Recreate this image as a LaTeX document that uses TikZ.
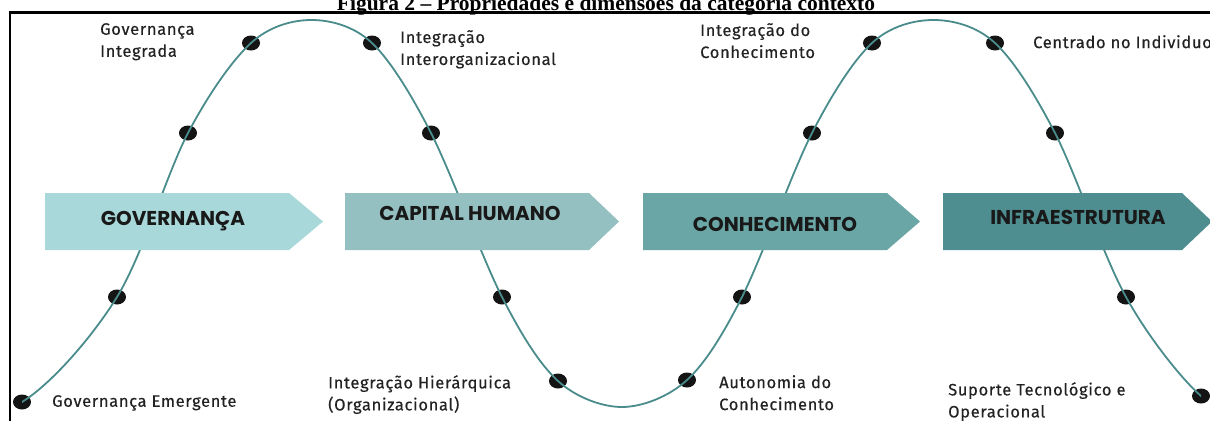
\documentclass[tikz,border=0pt]{standalone}
\usepackage{fontspec}
\usetikzlibrary{shapes.geometric}
\setmainfont{Liberation Serif}
\newfontfamily\lblfont{Fira Sans}[LetterSpace=4,FakeBold=0.3]
\newfontfamily\capfont{Poppins}
\definecolor{wavec}{RGB}{74,140,140}
\definecolor{aone}{RGB}{168,216,218}
\definecolor{atwo}{RGB}{148,192,194}
\definecolor{athree}{RGB}{106,166,166}
\definecolor{afour}{RGB}{78,142,144}
\definecolor{txt}{RGB}{34,34,34}
\begin{document}
\begin{tikzpicture}[x=1pt,y=-1pt,
  dot/.style={ellipse, fill=black!92, minimum width=18pt, minimum height=15pt, inner sep=0pt},
  wave/.style={draw=wavec, line width=1.8pt},
  lbl/.style={anchor=north west, align=left, inner sep=0pt, text=txt,
    font=\lblfont\fontsize{16.5}{22}\selectfont},
  captxt/.style={inner sep=0pt, text=black!90, font=\capfont\bfseries\fontsize{20}{22}\selectfont},
  frameline/.style={line width=2.5pt, draw=black}]
\useasboundingbox (0,0) rectangle (1210,421);
\clip (0,0) rectangle (1210,421);
\fill[white] (0,0) rectangle (1210,421);
% title
\node[anchor=base, inner sep=0pt, font=\bfseries\fontsize{21.5}{24}\selectfont] (title) at (606,10) {Figura 2 -- Propriedades e dimensões da categoria contexto};
% frame
\draw[frameline] (10,421) -- (10,12.5) -- (1211,12.5);
% dots
\node[dot] (d1) at (22,402) {};
\node[dot] (d2) at (117,297) {};
\node[dot] (d3) at (188,133) {};
\node[dot] (d4) at (251,43) {};
\node[dot] (d5) at (372,43) {};
\node[dot] (d6) at (431,133) {};
\node[dot] (d7) at (502,297) {};
\node[dot] (d8) at (558,381) {};
\node[dot] (d9) at (687,380) {};
\node[dot] (d10) at (742,297) {};
\node[dot] (d11) at (812,133) {};
\node[dot] (d12) at (872,43) {};
\node[dot] (d13) at (995,43) {};
\node[dot] (d14) at (1055,133) {};
\node[dot] (d15) at (1126,297) {};
\node[dot] (d16) at (1201,396) {};
\coordinate (t0) at (-70,412);
\coordinate (p1) at (311.5,20);
\coordinate (t1) at (622.5,407);
\coordinate (p2) at (933.5,20);
\coordinate (t2) at (1255,410);
% wave
\begin{scope}
\clip (22,0) rectangle (1201,421);
\draw[wave] plot[smooth, tension=0.55] coordinates {(t0) (d1.center) (d2.center) (d3.center) (d4.center) (p1) (d5.center) (d6.center) (d7.center) (d8.center) (t1) (d9.center) (d10.center) (d11.center) (d12.center) (p2) (d13.center) (d14.center) (d15.center) (d16.center) (t2)};
\end{scope}
% arrows
\fill[aone] (45,193) -- (289,193) -- (323,221.5) -- (289,250) -- (45,250) -- cycle;
\fill[atwo] (345,193) -- (589,193) -- (619,221.5) -- (589,250) -- (345,250) -- cycle;
\fill[athree] (643,193) -- (887,193) -- (920,221.5) -- (887,250) -- (643,250) -- cycle;
\fill[afour] (943,193) -- (1182,193) -- (1212,221.5) -- (1182,250) -- (943,250) -- cycle;
\node[captxt] (c1) at (173,221) {GOVERNANÇA};
\node[captxt] (c2) at (470,213) {CAPITAL HUMANO};
\node[captxt] (c3) at (775,224) {CONHECIMENTO};
\node[captxt] (c4) at (1078,217) {INFRAESTRUTURA};
% labels
\node[lbl] (l1) at (100,23) {Governança\\Integrada};
\node[lbl] (l2) at (400,30) {Integração\\Interorganizacional};
\node[lbl] (l3) at (700,23) {Integração do\\Conhecimento};
\node[lbl] (l4) at (1033,35) {Centrado no Individuo};
\node[lbl] (l5) at (52,395) {Governança Emergente};
\node[lbl] (l6) at (328,375) {Integração Hierárquica\\(Organizacional)};
\node[lbl] (l7) at (719,375) {Autonomia do\\Conhecimento};
\node[lbl] (l8) at (948,382) {Suporte Tecnológico e\\Operacional};
\end{tikzpicture}
\end{document}
